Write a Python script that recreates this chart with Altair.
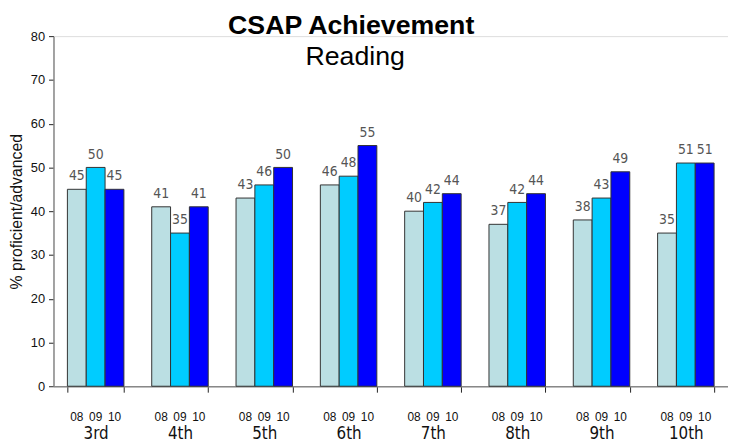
import altair as alt
import pandas as pd

grades = ["3rd", "4th", "5th", "6th", "7th", "8th", "9th", "10th"]
years = ["08", "09", "10"]
vals_08 = [45, 41, 43, 46, 40, 37, 38, 35]
vals_09 = [50, 35, 46, 48, 42, 42, 43, 51]
vals_10 = [45, 41, 50, 55, 44, 44, 49, 51]
colors = ["#BBDFE3", "#00CCFF", "#0000FF"]

rows = []
for i, g in enumerate(grades):
    for y, vals in zip(years, [vals_08, vals_09, vals_10]):
        rows.append({"grade": g, "year": y, "value": vals[i]})
df = pd.DataFrame(rows)

FONT = "Liberation Sans, Arial, sans-serif"
NARROW = "Liberation Sans Narrow, DejaVu Sans Condensed, Liberation Sans, sans-serif"

x = alt.X("grade:N", sort=grades, title=None,
          scale=alt.Scale(paddingInner=0.33, paddingOuter=0.165),
          axis=alt.Axis(labelAngle=0, tickBand="extent", tickSize=6,
                        tickColor="#222", domainColor="#888", domainWidth=1.5,
                        labelFont=NARROW, labelFontSize=17, labelColor="#111",
                        labelBaseline="top", labelPadding=34))
xo = alt.XOffset("year:N", sort=years)

base = alt.Chart(df)

bars = base.mark_bar(stroke="#333", strokeWidth=1).encode(
    x=x, xOffset=xo,
    y=alt.Y("value:Q", scale=alt.Scale(domain=[0, 80]),
            title="% proficient/advanced",
            axis=alt.Axis(values=list(range(0, 81, 10)), grid=False,
                          tickSize=5, tickColor="#222", domainColor="#888",
                          domainWidth=1.5, labelFont=FONT, labelFontSize=13,
                          labelColor="#111", labelPadding=4,
                          titleFont=FONT, titleFontSize=16,
                          titleFontWeight="normal", titleColor="#111",
                          titlePadding=6)),
    color=alt.Color("year:N", sort=years,
                    scale=alt.Scale(domain=years, range=colors), legend=None),
)

value_labels = base.mark_text(font=NARROW, fontSize=14, color="#555",
                              baseline="alphabetic", dy=-9).encode(
    x=x, xOffset=xo, y="value:Q", text="value:Q")

year_labels = base.mark_text(font=FONT, fontSize=12, color="#111",
                             baseline="alphabetic").encode(
    x=x, xOffset=xo, y=alt.value(389), text="year:N")

titles = pd.DataFrame({"t": ["CSAP Achievement"]})
title1 = alt.Chart(titles).mark_text(font=FONT, fontSize=27, fontWeight="bold",
                                     color="#000", baseline="alphabetic").encode(
    x=alt.value(301), y=alt.value(-2), text="t:N")
sub = pd.DataFrame({"t": ["Reading"]})
title2 = alt.Chart(sub).mark_text(font=FONT, fontSize=27, color="#000",
                                  baseline="alphabetic").encode(
    x=alt.value(305), y=alt.value(29), text="t:N")

chart = alt.layer(bars, value_labels, year_labels, title1, title2).properties(
    width=682, height=354,
    autosize=alt.AutoSizeParams(type="none"),
    padding={"left": 46, "top": 26, "right": 0, "bottom": 60},
).configure_view(stroke=None).configure(background="white")

chart.save("out.html", embed_options={"renderer": "svg", "actions": False})
